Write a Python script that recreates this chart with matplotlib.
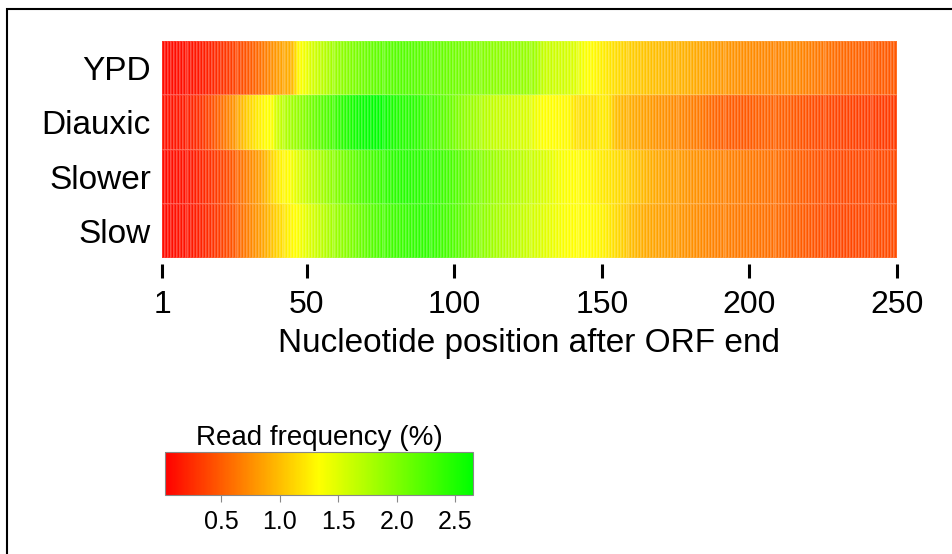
import matplotlib
matplotlib.use('Agg')
import matplotlib.pyplot as plt
import numpy as np
from matplotlib.colors import LinearSegmentedColormap
from matplotlib.patches import Rectangle

# Read frequency (%) per nucleotide position 1..250 after the ORF end
conditions = ['YPD', 'Diauxic', 'Slower', 'Slow']
positions = np.arange(1, 251)

ypd = [
    0.08, 0.07, 0.08, 0.09, 0.08, 0.10, 0.09, 0.11, 0.10, 0.12,
    0.12, 0.14, 0.13, 0.16, 0.17, 0.19, 0.20, 0.22, 0.24, 0.27,
    0.28, 0.30, 0.32, 0.33, 0.36, 0.38, 0.40, 0.43, 0.45, 0.48,
    0.50, 0.53, 0.56, 0.60, 0.64, 0.68, 0.72, 0.76, 0.80, 0.84,
    0.86, 0.88, 0.90, 0.92, 0.98, 1.14, 1.30, 1.36, 1.40, 1.44,
    1.52, 1.56, 1.60, 1.64, 1.68, 1.72, 1.76, 1.80, 1.83, 1.86,
    1.89, 1.92, 1.95, 1.97, 1.99, 2.01, 2.03, 2.05, 2.07, 2.09,
    2.11, 2.12, 2.14, 2.15, 2.16, 2.17, 2.18, 2.19, 2.18, 2.20,
    2.21, 2.20, 2.21, 2.20, 2.19, 2.20, 2.18, 2.17, 2.18, 2.16,
    2.15, 2.15, 2.13, 2.12, 2.11, 2.12, 2.10, 2.09, 2.08, 2.07,
    2.06, 2.05, 2.04, 2.03, 2.02, 2.01, 2.00, 1.99, 1.98, 1.97,
    1.96, 1.95, 1.94, 1.93, 1.92, 1.93, 1.91, 1.90, 1.89, 1.88,
    1.90, 1.89, 1.88, 1.87, 1.86, 1.85, 1.84, 1.80, 1.72, 1.66,
    1.62, 1.60, 1.62, 1.58, 1.60, 1.56, 1.58, 1.55, 1.54, 1.52,
    1.50, 1.46, 1.42, 1.38, 1.35, 1.33, 1.32, 1.30, 1.28, 1.26,
    1.24, 1.22, 1.20, 1.18, 1.16, 1.14, 1.12, 1.10, 1.09, 1.08,
    1.07, 1.06, 1.05, 1.04, 1.03, 1.02, 1.01, 1.00, 1.00, 0.99,
    0.98, 0.98, 0.97, 0.96, 0.96, 0.95, 0.94, 0.94, 0.93, 0.92,
    0.91, 0.90, 0.89, 0.88, 0.87, 0.86, 0.85, 0.84, 0.83, 0.82,
    0.81, 0.80, 0.80, 0.79, 0.78, 0.77, 0.76, 0.75, 0.75, 0.74,
    0.74, 0.73, 0.73, 0.72, 0.72, 0.72, 0.71, 0.71, 0.70, 0.70,
    0.72, 0.73, 0.74, 0.73, 0.72, 0.73, 0.72, 0.70, 0.69, 0.68,
    0.67, 0.66, 0.65, 0.64, 0.63, 0.62, 0.61, 0.60, 0.59, 0.58,
    0.57, 0.56, 0.56, 0.55, 0.54, 0.54, 0.53, 0.53, 0.52, 0.52,
    0.51, 0.51, 0.50, 0.50, 0.49, 0.50, 0.49, 0.48, 0.49, 0.48,
]

diauxic = [
    0.12, 0.11, 0.13, 0.12, 0.14, 0.14, 0.15, 0.16, 0.18, 0.19,
    0.21, 0.23, 0.25, 0.28, 0.32, 0.36, 0.40, 0.45, 0.50, 0.55,
    0.60, 0.65, 0.70, 0.75, 0.80, 0.86, 0.92, 0.98, 1.04, 1.10,
    1.15, 1.19, 1.23, 1.27, 1.30, 1.33, 1.34, 1.36, 1.52, 1.60,
    1.66, 1.70, 1.74, 1.78, 1.82, 1.85, 1.88, 1.92, 1.96, 2.00,
    2.04, 2.08, 2.12, 2.15, 2.18, 2.21, 2.24, 2.28, 2.32, 2.36,
    2.40, 2.43, 2.46, 2.49, 2.52, 2.55, 2.57, 2.59, 2.61, 2.62,
    2.63, 2.64, 2.65, 2.64, 2.63, 2.61, 2.58, 2.55, 2.52, 2.50,
    2.48, 2.46, 2.45, 2.44, 2.46, 2.44, 2.42, 2.40, 2.36, 2.32,
    2.30, 2.28, 2.26, 2.24, 2.20, 2.18, 2.16, 2.12, 2.08, 2.04,
    2.00, 1.96, 1.93, 1.90, 1.87, 1.85, 1.83, 1.80, 1.76, 1.72,
    1.70, 1.68, 1.66, 1.64, 1.63, 1.62, 1.62, 1.60, 1.58, 1.57,
    1.56, 1.56, 1.55, 1.54, 1.52, 1.48, 1.44, 1.40, 1.37, 1.35,
    1.34, 1.33, 1.34, 1.33, 1.32, 1.33, 1.31, 1.32, 1.30, 1.24,
    1.20, 1.18, 1.19, 1.18, 1.17, 1.19, 1.18, 1.17, 1.22, 1.24,
    1.23, 1.22, 1.16, 1.06, 1.00, 0.98, 0.96, 0.94, 0.93, 0.92,
    0.90, 0.89, 0.88, 0.86, 0.85, 0.84, 0.82, 0.80, 0.79, 0.78,
    0.77, 0.76, 0.75, 0.74, 0.73, 0.72, 0.71, 0.70, 0.69, 0.68,
    0.67, 0.66, 0.65, 0.63, 0.61, 0.59, 0.57, 0.55, 0.54, 0.53,
    0.52, 0.51, 0.50, 0.50, 0.49, 0.50, 0.49, 0.48, 0.49, 0.48,
    0.50, 0.51, 0.52, 0.51, 0.52, 0.53, 0.52, 0.53, 0.52, 0.53,
    0.52, 0.51, 0.52, 0.50, 0.49, 0.48, 0.47, 0.46, 0.45, 0.44,
    0.43, 0.42, 0.42, 0.41, 0.40, 0.40, 0.39, 0.38, 0.38, 0.37,
    0.37, 0.36, 0.36, 0.35, 0.36, 0.35, 0.34, 0.35, 0.34, 0.33,
    0.34, 0.33, 0.33, 0.32, 0.33, 0.32, 0.32, 0.33, 0.32, 0.32,
]

slower = [
    0.09, 0.08, 0.10, 0.09, 0.11, 0.10, 0.12, 0.11, 0.13, 0.14,
    0.15, 0.17, 0.19, 0.21, 0.23, 0.25, 0.27, 0.30, 0.32, 0.35,
    0.37, 0.40, 0.43, 0.47, 0.50, 0.54, 0.58, 0.62, 0.66, 0.70,
    0.74, 0.78, 0.82, 0.86, 0.92, 0.98, 1.05, 1.12, 1.18, 1.24,
    1.28, 1.30, 1.31, 1.34, 1.40, 1.45, 1.50, 1.55, 1.59, 1.63,
    1.67, 1.70, 1.73, 1.77, 1.80, 1.84, 1.88, 1.91, 1.94, 1.97,
    2.00, 2.03, 2.06, 2.09, 2.12, 2.15, 2.18, 2.21, 2.24, 2.26,
    2.28, 2.30, 2.32, 2.34, 2.36, 2.38, 2.40, 2.41, 2.42, 2.43,
    2.44, 2.45, 2.45, 2.46, 2.45, 2.44, 2.44, 2.43, 2.42, 2.40,
    2.40, 2.39, 2.38, 2.37, 2.36, 2.34, 2.32, 2.30, 2.27, 2.24,
    2.21, 2.18, 2.15, 2.12, 2.09, 2.06, 2.04, 2.01, 1.98, 1.95,
    1.92, 1.89, 1.86, 1.83, 1.81, 1.79, 1.77, 1.75, 1.74, 1.73,
    1.72, 1.70, 1.68, 1.66, 1.64, 1.62, 1.60, 1.58, 1.56, 1.54,
    1.52, 1.49, 1.46, 1.43, 1.40, 1.38, 1.36, 1.35, 1.34, 1.33,
    1.33, 1.32, 1.33, 1.31, 1.32, 1.30, 1.28, 1.27, 1.25, 1.24,
    1.22, 1.21, 1.20, 1.18, 1.16, 1.14, 1.12, 1.10, 1.08, 1.06,
    1.04, 1.02, 1.00, 0.98, 0.96, 0.94, 0.92, 0.90, 0.89, 0.88,
    0.87, 0.86, 0.85, 0.84, 0.84, 0.83, 0.82, 0.81, 0.80, 0.79,
    0.78, 0.77, 0.76, 0.75, 0.74, 0.73, 0.72, 0.71, 0.70, 0.70,
    0.69, 0.69, 0.68, 0.68, 0.67, 0.67, 0.66, 0.66, 0.65, 0.64,
    0.64, 0.63, 0.63, 0.62, 0.62, 0.61, 0.61, 0.60, 0.60, 0.59,
    0.58, 0.57, 0.56, 0.55, 0.54, 0.53, 0.52, 0.51, 0.50, 0.49,
    0.48, 0.47, 0.46, 0.45, 0.44, 0.43, 0.43, 0.42, 0.42, 0.41,
    0.41, 0.40, 0.40, 0.41, 0.40, 0.39, 0.40, 0.39, 0.40, 0.39,
    0.40, 0.39, 0.40, 0.41, 0.40, 0.41, 0.40, 0.41, 0.40, 0.41,
]

slow = [
    0.09, 0.08, 0.10, 0.09, 0.10, 0.11, 0.12, 0.11, 0.13, 0.14,
    0.15, 0.17, 0.18, 0.20, 0.22, 0.24, 0.26, 0.28, 0.31, 0.33,
    0.36, 0.39, 0.42, 0.45, 0.48, 0.52, 0.56, 0.60, 0.64, 0.68,
    0.72, 0.76, 0.80, 0.84, 0.88, 0.93, 0.98, 1.03, 1.08, 1.12,
    1.16, 1.20, 1.24, 1.28, 1.31, 1.33, 1.36, 1.40, 1.44, 1.48,
    1.52, 1.56, 1.60, 1.64, 1.68, 1.72, 1.76, 1.79, 1.82, 1.85,
    1.88, 1.91, 1.94, 1.97, 2.00, 2.03, 2.06, 2.09, 2.12, 2.15,
    2.18, 2.20, 2.22, 2.24, 2.26, 2.28, 2.30, 2.31, 2.32, 2.33,
    2.34, 2.35, 2.36, 2.37, 2.38, 2.39, 2.40, 2.41, 2.40, 2.41,
    2.40, 2.39, 2.38, 2.36, 2.34, 2.32, 2.30, 2.28, 2.25, 2.22,
    2.19, 2.16, 2.13, 2.10, 2.07, 2.04, 2.01, 1.98, 1.95, 1.92,
    1.89, 1.86, 1.83, 1.80, 1.78, 1.76, 1.74, 1.72, 1.70, 1.69,
    1.68, 1.66, 1.64, 1.62, 1.60, 1.58, 1.56, 1.54, 1.52, 1.50,
    1.48, 1.46, 1.44, 1.42, 1.40, 1.38, 1.36, 1.35, 1.34, 1.33,
    1.34, 1.33, 1.32, 1.33, 1.34, 1.32, 1.31, 1.30, 1.29, 1.28,
    1.26, 1.24, 1.21, 1.18, 1.15, 1.12, 1.09, 1.06, 1.03, 1.00,
    0.98, 0.96, 0.94, 0.92, 0.90, 0.89, 0.88, 0.87, 0.86, 0.85,
    0.85, 0.84, 0.84, 0.83, 0.82, 0.81, 0.80, 0.79, 0.78, 0.77,
    0.76, 0.75, 0.74, 0.73, 0.72, 0.71, 0.70, 0.69, 0.69, 0.68,
    0.68, 0.67, 0.67, 0.66, 0.66, 0.65, 0.65, 0.64, 0.64, 0.63,
    0.63, 0.62, 0.62, 0.61, 0.61, 0.60, 0.60, 0.59, 0.59, 0.58,
    0.57, 0.56, 0.55, 0.54, 0.53, 0.52, 0.51, 0.50, 0.49, 0.48,
    0.47, 0.46, 0.45, 0.44, 0.43, 0.42, 0.41, 0.40, 0.40, 0.39,
    0.39, 0.38, 0.38, 0.39, 0.38, 0.38, 0.39, 0.38, 0.39, 0.40,
    0.40, 0.41, 0.40, 0.41, 0.42, 0.41, 0.42, 0.41, 0.42, 0.42,
]

x_ticks = [1, 50, 100, 150, 200, 250]
cbar_ticks = [0.5, 1.0, 1.5, 2.0, 2.5]
vmin, vmax = 0.02, 2.65

plt.rcParams['font.family'] = ['Liberation Sans', 'DejaVu Sans']

cmap = LinearSegmentedColormap.from_list('ryg', ['#ff0000', '#ffff00', '#00ff00'])

fig = plt.figure(figsize=(9.52, 5.54), dpi=100)

# heatmap
ax = fig.add_axes([162 / 952, 1 - 258 / 554, 735 / 952, 217 / 554])
for side in ['top', 'right', 'bottom', 'left']:
    ax.spines[side].set_visible(False)
# ticks sit a little below the cells
ax.spines['bottom'].set_position(('outward', 4))

data = np.array([ypd, diauxic, slower, slow])
x_edges = np.linspace(1, 250, len(positions) + 1)
y_edges = np.arange(len(conditions) + 1)
mesh = ax.pcolormesh(x_edges, y_edges, data, cmap=cmap, vmin=vmin, vmax=vmax,
                     edgecolors=(1, 1, 1, 0.15), linewidth=0.3)
ax.set_xlim(1, 250)
ax.set_ylim(len(conditions), 0)
ax.set_yticks(np.arange(len(conditions)) + 0.5)
ax.set_yticklabels(conditions)
ax.tick_params(axis='y', length=0, pad=8, labelsize=24)
ax.set_xticks(x_ticks)
ax.set_xticklabels([str(t) for t in x_ticks])
ax.tick_params(axis='x', length=10, width=2.2, pad=9, direction='out', labelsize=23)
ax.set_xlabel('Nucleotide position after ORF end', fontsize=24, labelpad=6)

# colour bar
cax = fig.add_axes([165 / 952, 1 - 495 / 554, 308 / 952, 43 / 554])
cb = fig.colorbar(mesh, cax=cax, orientation='horizontal', ticks=cbar_ticks)
cb.outline.set_edgecolor('#888888')
cb.outline.set_linewidth(0.8)
cax.tick_params(length=5, width=0.8, color='#888888', labelsize=18, pad=6)
cax.set_xticklabels([f'{t:.1f}' for t in cbar_ticks])
cax.set_title('Read frequency (%)', fontsize=20, pad=5)

# frame around the figure
fig.patches.append(Rectangle((7 / 952, -0.1), 1.2, 1.1 - 9 / 554, transform=fig.transFigure,
                             fill=False, edgecolor='black', linewidth=1.5))

fig.savefig('out.png', dpi=100)
